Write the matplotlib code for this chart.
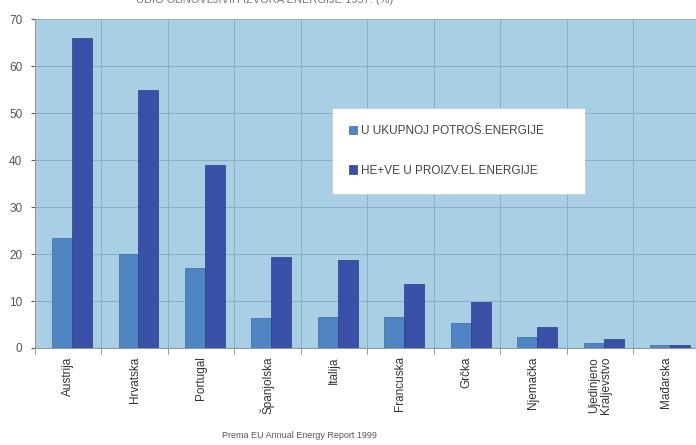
import numpy as np
from matplotlib import pyplot as plt
from matplotlib.ticker import FixedLocator

plt.rcParams['font.family'] = ['Liberation Sans', 'DejaVu Sans']

# udjeli po zemljama (%)
zemlje = ['Austrija', 'Hrvatska', 'Portugal', 'Španjolska', 'Italija',
          'Francuska', 'Grčka', 'Njemačka', 'Ujedinjeno\nKraljevstvo', 'Mađarska']
ukupna_potrosnja = [23.5, 20.0, 17.0, 6.4, 6.5, 6.6, 5.3, 2.3, 1.0, 0.7]
proizvodnja_el = [66.0, 54.9, 38.9, 19.4, 18.7, 13.7, 9.8, 4.4, 2.0, 0.6]
naziv1 = 'U UKUPNOJ POTROŠ.ENERGIJE'
naziv2 = 'HE+VE U PROIZV.EL.ENERGIJE'

pozadina = '#a9cfe5'
svijetla = '#4e85c2'
tamna = '#3a4fa8'
mreza = '#8aadc6'

fig = plt.figure(figsize=(6.96, 4.45), dpi=100)
ax = fig.add_axes([0.050, 0.218, 0.955, 0.739])
ax.set_facecolor(pozadina)

x = np.arange(len(zemlje))
w = 0.30
ax.bar(x - w / 2 + 0.06, ukupna_potrosnja, w, color=svijetla,
       edgecolor='#3d6a9c', linewidth=0.5, label=naziv1, zorder=3)
ax.bar(x + w / 2 + 0.06, proizvodnja_el, w, color=tamna,
       edgecolor='#2d3c80', linewidth=0.5, label=naziv2, zorder=3)

ax.set_xlim(-0.5, len(zemlje) - 0.5)
ax.set_ylim(0, 70)
ax.set_yticks(range(0, 71, 10))
ax.set_xticks(x)
ax.set_xticklabels(zemlje, rotation=90, fontsize=8.5, color='#333333',
                   linespacing=0.95)
ax.tick_params(axis='x', length=0, pad=6)
ax.xaxis.set_minor_locator(FixedLocator(np.arange(-0.5, len(zemlje), 1)))
ax.tick_params(axis='x', which='minor', length=4, color='#888888')
ax.tick_params(axis='y', labelsize=8.5, colors='#555555', length=3, pad=6)

# mreža
for yy in range(10, 71, 10):
    ax.axhline(yy, color=mreza, linewidth=0.7, zorder=1)
for xx in np.arange(0.5, len(zemlje) - 0.5, 1):
    ax.axvline(xx, color=mreza, linewidth=0.7, zorder=1)

for s in ['top', 'right']:
    ax.spines[s].set_visible(False)
ax.spines['left'].set_color('#999999')
ax.spines['bottom'].set_color('#999999')

leg = ax.legend(loc='upper left', bbox_to_anchor=(0.44, 0.645, 0.395, 0.1),
                mode='expand', fontsize=8.5, labelspacing=2.35, borderpad=1.35,
                handlelength=0.7, handleheight=0.7, handletextpad=0.3,
                fancybox=False, framealpha=1, edgecolor='white')
for t in leg.get_texts():
    t.set_color('#444444')

fig.text(0.43, 0.012, 'Prema EU Annual Energy Report 1999', ha='center',
         va='bottom', fontsize=6.5, color='#555555')
fig.text(0.38, 1.0, 'UDIO OBNOVLJIVIH IZVORA ENERGIJE 1997. (%)', ha='center',
         va='center', fontsize=8, color='#777777')

fig.savefig('out.png', dpi=100)
